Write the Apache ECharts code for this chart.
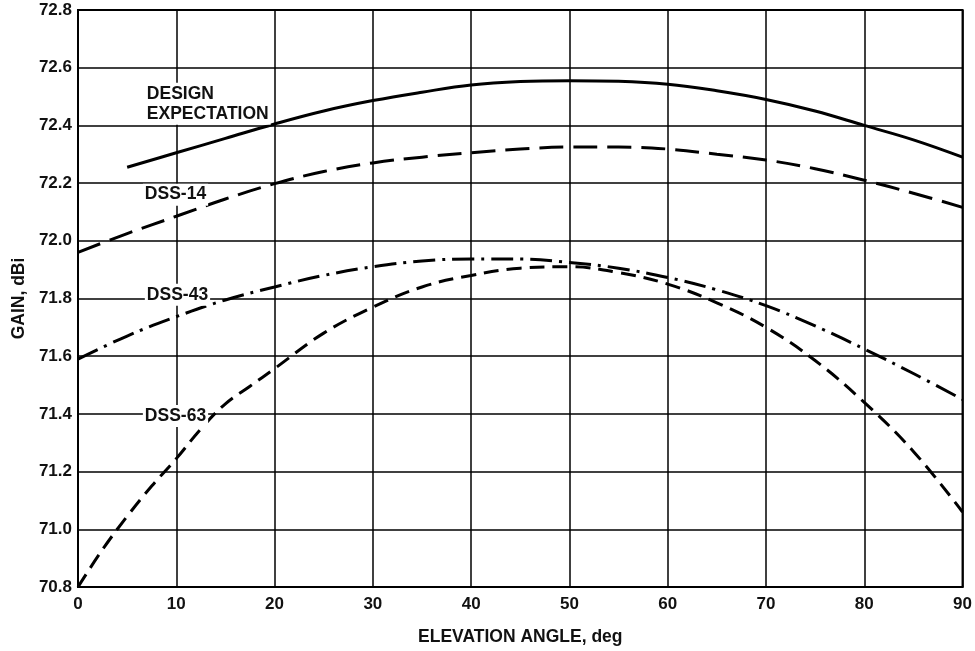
<!DOCTYPE html>
<html><head><meta charset="utf-8">
<script src="https://cdn.jsdelivr.net/npm/echarts@6/dist/echarts.min.js"></script>
<style>html,body{margin:0;padding:0;background:#fff}#c{width:975px;height:651px}</style>
</head><body><div id="c"></div>
<script>
var angles = [0,5,10,15,20,25,30,35,40,45,50,55,60,65,70,75,80,85,90];
var designExpectation = [null,72.255,72.305,72.355,72.405,72.45,72.486,72.515,72.54,72.552,72.555,72.553,72.543,72.52,72.49,72.45,72.40,72.35,72.29];
var dss14 = [71.96,72.025,72.085,72.145,72.198,72.24,72.27,72.29,72.305,72.318,72.325,72.325,72.318,72.30,72.28,72.25,72.21,72.165,72.116];
var dss43 = [71.59,71.67,71.737,71.795,71.84,71.88,71.91,71.93,71.937,71.937,71.925,71.905,71.873,71.83,71.775,71.705,71.625,71.54,71.45];
var dss63Angles = [0,2.5,5,7.5,10,12.5,15,17.5,20,25,30,35,40,45,50,55,60,65,70,75,80,85,90];
var dss63 = [70.8,70.93,71.045,71.15,71.245,71.348,71.435,71.496,71.557,71.68,71.77,71.84,71.88,71.905,71.91,71.89,71.85,71.785,71.70,71.585,71.44,71.27,71.06];
var yTicks = ['70.8','71.0','71.2','71.4','71.6','71.8','72.0','72.2','72.4','72.6','72.8'];
var curveLabels = [
  {text:'DESIGN\nEXPECTATION', x:6.8, y:72.475},
  {text:'DSS-14', x:6.6, y:72.16},
  {text:'DSS-43', x:6.8, y:71.813},
  {text:'DSS-63', x:6.6, y:71.393}
];

function pairs(xs, ys){ var o=[]; for (var i=0;i<xs.length;i++){ if(ys[i]!==null) o.push([xs[i], ys[i]]); } return o; }

var FONT = 'Liberation Sans, Arial, sans-serif';
var chart = echarts.init(document.getElementById('c'));
var lineBase = {type:'line', showSymbol:false, smooth:0.4, silent:true, animation:false};
var txt = {fontFamily:FONT, fontSize:17.5, fontWeight:'bold', color:'#111'};
var tick = {fontFamily:FONT, fontSize:17, fontWeight:'bold', color:'#111'};
chart.setOption({
  backgroundColor:'#fff',
  animation:false,
  grid:{left:78, right:6, top:10, bottom:62, show:true, borderColor:'#000', borderWidth:2},
  xAxis:{type:'value', min:0, max:90, interval:10,
    name:'ELEVATION ANGLE, deg', nameLocation:'middle', nameGap:41,
    nameTextStyle:txt,
    axisLine:{show:true, lineStyle:{color:'#000', width:2}},
    axisTick:{show:false},
    axisLabel:Object.assign({margin:9}, tick),
    splitLine:{show:true, lineStyle:{color:'#000', width:1.5}}
  },
  yAxis:{type:'value', min:70.8, max:72.8, interval:0.2,
    name:'GAIN, dBi', nameLocation:'middle', nameGap:49,
    nameTextStyle:txt,
    axisLine:{show:true, lineStyle:{color:'#000', width:2}},
    axisTick:{show:false},
    axisLabel:Object.assign({margin:6,
      formatter:function(v){ var i=Math.round((v-70.8)/0.2); return yTicks[i]!==undefined?yTicks[i]:v.toFixed(1); }}, tick),
    splitLine:{show:true, lineStyle:{color:'#000', width:1.5}}
  },
  series:[
    Object.assign({}, lineBase, {name:'DESIGN EXPECTATION', data:pairs(angles, designExpectation),
      lineStyle:{color:'#000', width:3, type:'solid'}}),
    Object.assign({}, lineBase, {name:'DSS-14', data:pairs(angles, dss14),
      lineStyle:{color:'#000', width:3, type:[24,10]}}),
    Object.assign({}, lineBase, {name:'DSS-43', data:pairs(angles, dss43),
      lineStyle:{color:'#000', width:3, type:[22,7,3,7]}}),
    Object.assign({}, lineBase, {name:'DSS-63', data:pairs(dss63Angles, dss63),
      lineStyle:{color:'#000', width:3, type:[15,8]}})
  ]
});

var g = curveLabels.map(function(l){
  var p = chart.convertToPixel({gridIndex:0}, [l.x, l.y]);
  return {type:'text', x:p[0], y:p[1], z:100,
    style:{text:l.text, fill:'#111', font:'bold 17.5px '+FONT, textAlign:'left', textVerticalAlign:'middle',
      backgroundColor:'#fff', padding:[1,2,1,2], lineHeight:20}};
});
chart.setOption({graphic:g});
</script>
</body></html>
